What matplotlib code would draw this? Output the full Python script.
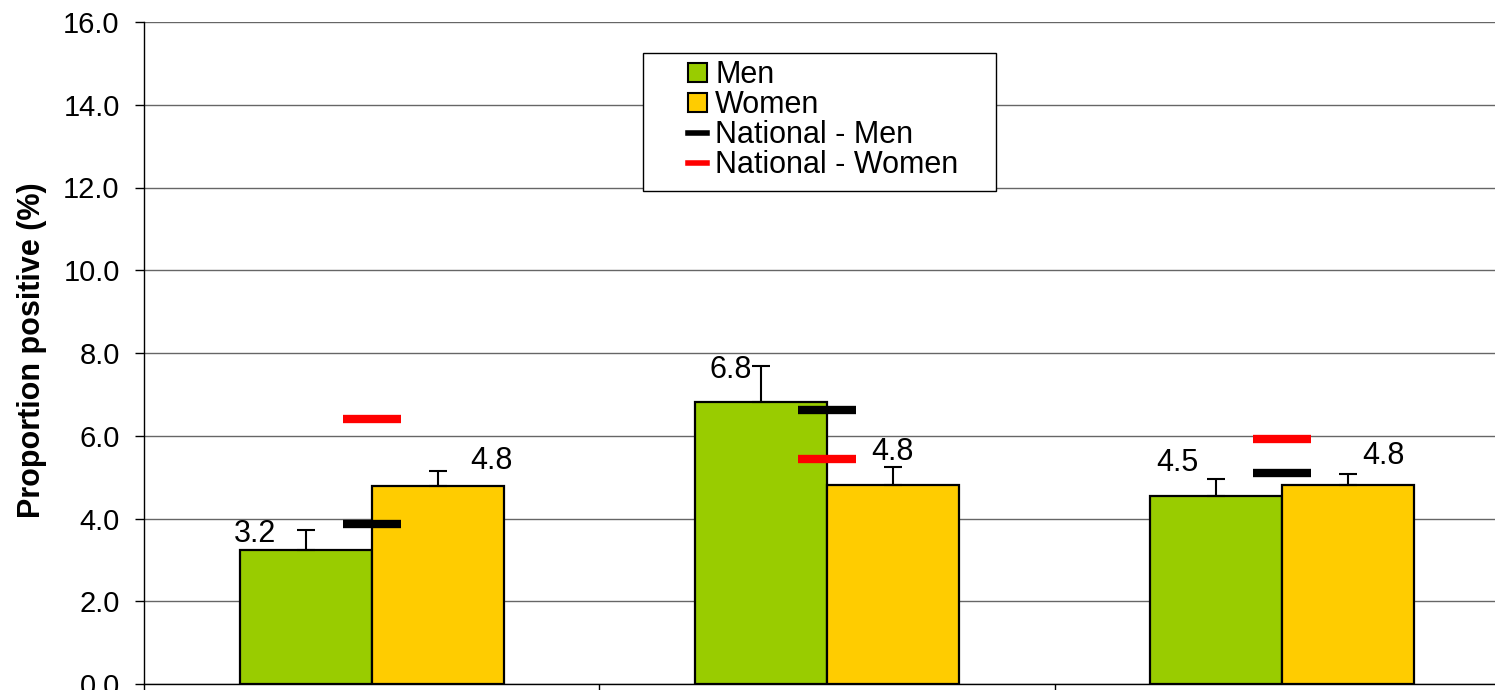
import matplotlib
matplotlib.use('Agg')
import matplotlib.pyplot as plt
from matplotlib.patches import Patch, Rectangle
from matplotlib.lines import Line2D
import numpy as np

plt.rcParams['font.family'] = ['Liberation Sans', 'DejaVu Sans']

# values
men = [3.24, 6.82, 4.54]
women = [4.78, 4.82, 4.82]
men_err = [0.49, 0.87, 0.41]
women_err = [0.36, 0.42, 0.25]
national_men = [3.86, 6.63, 5.11]
national_women = [6.40, 5.45, 5.91]
series_names = ['Men', 'Women', 'National - Men', 'National - Women']

GREEN = '#99CC00'
YELLOW = '#FFCC00'
RED = '#FF0000'

fig = plt.figure(figsize=(14.95, 6.9), dpi=100)
# the plot area runs past the right edge of the picture, like the reference
ax = fig.add_axes([144 / 1495, 6 / 690, 1366 / 1495, 662 / 690])

x = np.arange(len(men))
w = 0.29

ax.bar(x - w / 2, men, w, color=GREEN, edgecolor='black', linewidth=1.6, zorder=3)
ax.bar(x + w / 2, women, w, color=YELLOW, edgecolor='black', linewidth=1.6, zorder=3)

# upper error bars only
ax.errorbar(x - w / 2, men, yerr=[np.zeros(3), men_err], fmt='none',
            ecolor='black', elinewidth=1.5, capsize=6.5, capthick=1.5, zorder=4)
ax.errorbar(x + w / 2, women, yerr=[np.zeros(3), women_err], fmt='none',
            ecolor='black', elinewidth=1.5, capsize=6.5, capthick=1.5, zorder=4)

# national reference dashes
ax.hlines(national_men, x - 0.064, x + 0.064, colors='black', linewidth=6, zorder=5)
ax.hlines(national_women, x - 0.064, x + 0.064, colors=RED, linewidth=6, zorder=5)

# data labels, nudged by hand like in the original
men_nudge = [(-51, 16), (-30, 32), (-39, 33)]
women_nudge = [(54, 25), (-1, 33), (35, 29)]
for i in range(len(men)):
    ax.annotate('%.1f' % men[i], (x[i] - w / 2, men[i]), xytext=men_nudge[i],
                textcoords='offset pixels', ha='center', va='center', fontsize=22, zorder=6)
    ax.annotate('%.1f' % women[i], (x[i] + w / 2, women[i]), xytext=women_nudge[i],
                textcoords='offset pixels', ha='center', va='center', fontsize=22, zorder=6)

ax.set_xlim(-0.5, 2.5)
ax.set_ylim(0, 16)
ax.set_yticks(np.arange(0, 16.1, 2))
ax.set_yticklabels(['%.1f' % v for v in np.arange(0, 16.1, 2)], fontsize=21)
ax.set_xticks([-0.5, 0.5, 1.5, 2.5])
ax.set_xticklabels([])
ax.tick_params(axis='y', direction='out', length=6.5, width=1, pad=11)
ax.tick_params(axis='x', direction='out', length=6.5, width=1)
ax.yaxis.grid(True, color='#666666', linewidth=1)
ax.set_axisbelow(True)
for s in ['top', 'right']:
    ax.spines[s].set_visible(False)
ax.spines['left'].set_linewidth(1)
ax.spines['bottom'].set_linewidth(1)

ax.set_ylabel('Proportion positive (%)', fontsize=22, fontweight='bold')
ax.yaxis.set_label_coords(-0.071, 0.505)

# legend box drawn separately, the Excel style has uneven padding
ax.add_patch(Rectangle((0.3653, 0.7447), 0.2584, 0.2085, transform=ax.transAxes,
                       facecolor='white', edgecolor='black', linewidth=1, zorder=7))
handles = [Patch(facecolor=GREEN, edgecolor='black', linewidth=1.5),
           Patch(facecolor=YELLOW, edgecolor='black', linewidth=1.5),
           Line2D([], [], color='black', linewidth=4),
           Line2D([], [], color=RED, linewidth=4)]
leg = ax.legend(handles, series_names, loc='upper left', bbox_to_anchor=(0.398, 0.942),
                frameon=False, fontsize=22, borderpad=0, borderaxespad=0,
                handlelength=0.62, handleheight=0.6, handletextpad=0.28, labelspacing=0.0)
leg.set_zorder(8)

fig.savefig('out.png', dpi=100)
